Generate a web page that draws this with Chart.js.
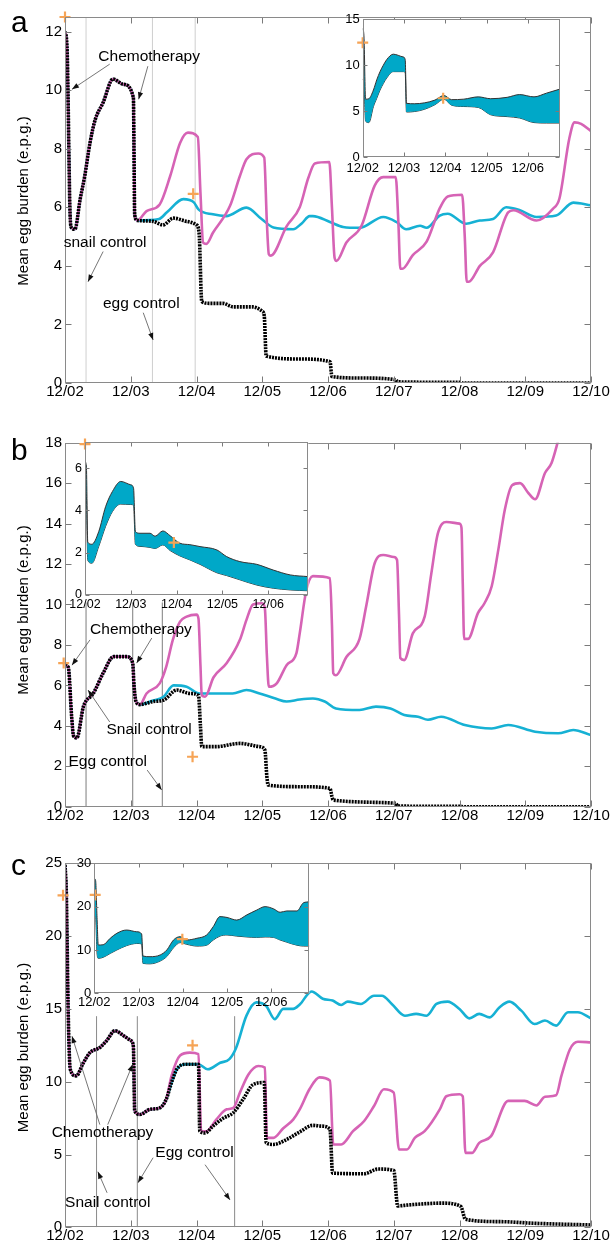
<!DOCTYPE html>
<html><head><meta charset="utf-8">
<script src="https://cdn.jsdelivr.net/npm/chart.js@4.4.1/dist/chart.umd.min.js"></script>
<style>
html,body{margin:0;padding:0;background:#fff;}
#wrap{position:relative;width:612px;height:1249px;overflow:hidden;background:#fff;}
canvas{position:absolute;}
</style></head><body><div id="wrap">
<canvas id="ma" width="612" height="410" style="left:0px;top:0px"></canvas>
<canvas id="ia" width="250" height="180" style="left:325px;top:5px"></canvas>
<canvas id="mb" width="612" height="425" style="left:0px;top:410px"></canvas>
<canvas id="ib" width="270" height="185" style="left:50px;top:430px"></canvas>
<canvas id="mc" width="612" height="414" style="left:0px;top:835px"></canvas>
<canvas id="ic" width="265" height="165" style="left:55px;top:850px"></canvas>
</div>
<script>
// ---------- labels / ticks ----------
const monthLabels = ['12/02','12/03','12/04','12/05','12/06','12/07','12/08','12/09','12/10'];
const monthTicks = [0,1,2,3,4,5,6,7,8];
const insetMonthTicks = [0,1,2,3,4];
const yTitle = 'Mean egg burden (e.p.g.)';

// ---------- panel a ----------
const aYTicks = [0,2,4,6,8,10,12];
const aCommonX = [0,0.03,0.08,0.1,0.15,0.23,0.3,0.38,0.46,0.58,0.73,0.89,1.04,1.06,1.1];
const aCommonY = [12.0,11.5,5.6,5.3,5.25,6.27,7.07,8.2,9.0,9.58,10.38,10.2,9.75,5.75,5.55];
const aBlackX = [1.34,1.49,1.65,1.85,2.0,2.04,2.08,2.2,2.4,2.56,2.85,3.0,3.03,3.06,3.57,4.03,4.06,4.5,5.03,5.06,6.02,6.05,8];
const aBlackY = [5.52,5.4,5.63,5.52,5.4,5.1,2.78,2.72,2.72,2.6,2.6,2.45,2.3,0.92,0.82,0.73,0.22,0.17,0.11,0.04,0.02,0,0];
const aPinkX = [1.24,1.44,1.6,1.75,1.87,2.02,2.06,2.1,2.15,2.25,2.51,2.66,2.76,2.94,3.03,3.07,3.1,3.13,3.37,3.57,3.7,3.8,4.02,4.06,4.1,4.13,4.28,4.51,4.71,4.84,5.03,5.07,5.1,5.13,5.29,5.5,5.7,5.82,6.04,6.08,6.11,6.14,6.31,6.51,6.74,6.82,7.17,7.42,7.52,7.67,7.75,7.85,8];
const aPinkY = [5.87,6.1,7.07,8.2,8.55,8.4,6.5,4.8,4.75,5.13,6.05,7.07,7.64,7.84,7.7,5.5,4.4,4.35,5.35,6.0,7.0,7.5,7.55,6.0,4.28,4.17,4.8,5.37,6.74,7.03,7.03,5.5,3.9,3.9,4.37,4.83,5.97,6.37,6.43,5.0,3.46,3.46,4.0,4.46,5.83,5.9,5.55,5.95,6.3,8.35,8.9,8.85,8.6];
const aCyanX = [1.43,1.55,1.8,1.96,2.03,2.25,2.45,2.76,2.99,3.17,3.47,3.6,3.72,3.77,4.03,4.23,4.48,4.84,5.04,5.19,5.4,5.5,5.7,5.82,6.1,6.31,6.51,6.71,6.92,7.17,7.47,7.73,8];
const aCyanY = [5.6,5.83,6.28,6.17,5.93,5.76,5.7,5.99,5.6,5.31,5.25,5.45,5.7,5.7,5.5,5.33,5.3,5.67,5.5,5.25,5.37,5.3,5.72,5.78,5.44,5.55,5.6,6.0,5.9,5.67,5.72,6.16,6.07];
const aVLines = [0.32,1.33,1.98];
const aPlusX = [0,1.95];
const aPlusY = [12.5,6.46];
// inset a
const iaYTicks = [0,5,10,15];
const iaX  = [0,0.03,0.07,0.15,0.26,0.34,0.42,0.5,0.58,0.74,0.98,1.03,1.06,1.25,1.5,1.75,1.97,2.15,2.45,2.8,3.1,3.5,3.8,4.15,4.45,4.78];
const iaHi = [14.0,13.2,6.3,6.35,7.3,8.4,9.3,10.0,10.6,11.2,10.9,10.6,5.85,5.8,5.9,6.2,6.7,6.25,6.3,6.55,6.35,6.5,6.8,6.55,6.95,7.4];
const iaLo = [8.5,8.0,3.9,3.75,5.5,6.4,7.3,8.0,8.6,9.3,9.3,9.2,4.9,4.95,5.2,5.7,6.3,5.65,5.5,5.4,4.6,4.4,4.25,3.75,3.7,3.7];
const iaPlusX = [0,1.95];
const iaPlusY = [12.45,6.4];

// ---------- panel b ----------
const bYTicks = [0,2,4,6,8,10,12,14,16,18];
const bCommonX = [0,0.05,0.1,0.13,0.18,0.28,0.43,0.58,0.74,0.94,1.03,1.05,1.08,1.14];
const bCommonY = [7.0,6.9,4.5,3.5,3.4,4.95,5.6,6.6,7.42,7.42,7.1,6.0,5.2,5.05];
const bBlackX = [1.34,1.5,1.7,1.9,2.03,2.06,2.08,2.3,2.66,2.96,3.04,3.07,3.09,3.57,4.03,4.06,4.08,5.03,5.06,6.02,6.05,8];
const bBlackY = [5.2,5.27,5.77,5.6,5.5,4.0,2.97,2.97,3.13,2.97,2.8,1.5,1.07,0.99,0.91,0.5,0.33,0.17,0.03,0.02,0,0];
const bPinkX = [1.24,1.44,1.54,1.64,1.75,1.85,2.0,2.03,2.06,2.08,2.13,2.26,2.46,2.66,2.76,2.86,3.0,3.04,3.07,3.1,3.22,3.37,3.52,3.57,3.67,3.77,4.03,4.06,4.08,4.12,4.28,4.48,4.58,4.71,4.84,5.0,5.05,5.08,5.1,5.16,5.29,5.47,5.57,5.67,5.8,6.0,6.03,6.05,6.07,6.13,6.28,6.38,6.49,6.59,6.69,6.8,6.92,7.05,7.15,7.3,7.4,7.5,7.7,8];
const bPinkY = [5.6,6.1,6.93,8.25,9.15,9.4,9.5,9.3,7.0,5.5,5.44,6.4,7.1,8.25,9.24,10.0,10.06,9.8,7.5,5.93,6.1,7.0,7.6,8.57,10.7,11.4,11.3,9.0,6.6,6.5,7.4,8.3,9.9,12.04,12.45,12.35,12.2,9.5,7.35,7.25,8.57,9.4,11.5,13.5,14.08,14.0,13.8,11.0,8.3,8.3,9.57,10.06,10.9,12.7,14.7,15.9,16.0,15.5,15.2,16.5,17.0,18.1,20.5,23];
const bCyanX = [1.34,1.5,1.65,1.85,2.05,2.3,2.55,2.76,2.96,3.2,3.37,3.57,3.77,3.95,4.12,4.48,4.73,4.95,5.16,5.37,5.52,5.72,6.08,6.49,6.74,7.15,7.5,7.73,8];
const bCyanY = [5.25,5.44,6.0,5.93,5.6,5.6,5.6,5.77,5.6,5.35,5.2,5.3,5.35,5.2,4.86,4.78,4.95,4.86,4.53,4.45,4.3,4.45,4.04,3.87,4.04,3.71,3.63,3.79,3.54];
const bVLines = [0.32,1.03,1.48];
const bPlusX = [-0.02,1.94];
const bPlusY = [7.1,2.47];
// inset b
const ibYTicks = [0,2,4,6];
const ibX  = [0,0.03,0.06,0.15,0.3,0.45,0.6,0.78,1.0,1.06,1.1,1.2,1.42,1.53,1.7,1.86,2.07,2.29,2.51,2.88,3.09,3.38,3.75,4.11,4.48,4.87];
const ibHi = [6.3,6.1,2.5,2.4,3.0,4.18,4.9,5.37,5.21,5.05,3.0,2.92,2.92,2.78,3.03,2.8,2.45,2.38,2.29,2.13,1.82,1.58,1.45,1.18,0.95,0.87];
const ibLo = [5.5,4.8,1.65,1.5,2.3,3.25,3.95,4.3,4.28,4.25,2.4,2.3,2.25,2.2,2.37,2.1,1.85,1.66,1.45,1.05,0.92,0.72,0.47,0.32,0.24,0.2];
const ibPlusX = [0,1.94];
const ibPlusY = [7.14,2.48];

// ---------- panel c ----------
const cYTicks = [0,5,10,15,20,25];
const cCommonX = [0,0.02,0.05,0.08,0.17,0.28,0.38,0.53,0.63,0.76,0.89,1.01,1.04,1.06,1.14,1.29,1.44,1.54];
const cCommonY = [24.9,23.0,14.5,10.85,10.4,11.3,12.0,12.35,12.8,13.5,13.16,12.8,12.4,8.0,7.75,8.1,8.2,8.8];
const cBlackX = [1.62,1.7,1.85,2.03,2.05,2.13,2.25,2.41,2.56,2.71,2.86,3.03,3.06,3.17,3.37,3.57,3.77,3.9,4.03,4.07,4.55,4.76,5.0,5.06,5.23,5.74,6.02,6.09,6.62,7.12,8];
const cBlackY = [9.94,10.85,11.2,11.2,6.6,6.48,6.95,7.5,7.87,8.8,9.8,9.94,5.8,5.69,6.03,6.55,7.0,6.95,6.72,3.72,3.68,4.0,3.9,1.47,1.54,1.66,1.43,0.55,0.39,0.28,0.16];
const cPinkX = [1.62,1.75,1.9,2.03,2.07,2.15,2.3,2.46,2.56,2.66,2.79,2.94,3.04,3.07,3.17,3.32,3.47,3.57,3.72,3.87,4.03,4.08,4.2,4.38,4.55,4.7,4.85,5.0,5.08,5.2,5.32,5.47,5.7,5.8,6.0,6.05,6.09,6.19,6.3,6.48,6.74,6.99,7.17,7.3,7.47,7.55,7.68,7.8,8];
const cPinkY = [10.4,11.8,12.0,11.9,6.6,6.6,7.4,8.1,8.2,9.25,10.5,11.08,10.97,6.14,6.14,6.8,7.4,8.1,9.5,10.3,10.07,5.69,5.69,6.6,7.3,8.33,9.48,9.25,5.34,5.34,6.14,6.6,8.1,9.0,9.14,9.0,5.11,5.11,5.8,6.26,8.68,8.68,8.37,8.97,9.07,10.4,12.23,12.74,12.7];
const cCyanX = [1.62,1.7,1.85,2.03,2.17,2.36,2.5,2.6,2.76,2.91,3.06,3.19,3.32,3.47,3.57,3.75,3.92,4.07,4.2,4.3,4.5,4.7,4.82,4.97,5.17,5.34,5.5,5.65,5.82,6.0,6.15,6.3,6.46,6.61,6.76,6.94,7.14,7.3,7.47,7.65,7.8,8];
const cCyanY = [9.94,10.85,11.2,11.2,10.85,11.3,11.55,12.3,14.54,15.45,15.2,14.3,15.0,15.0,15.3,16.2,15.7,15.57,15.27,15.5,15.34,15.9,15.9,15.34,14.53,14.66,14.53,15.34,15.5,15.0,14.35,14.66,14.42,15.12,15.5,14.88,13.96,14.2,13.85,14.77,14.77,14.35];
const cVLines = [0.48,1.1,2.58];
const cPlusX = [-0.03,1.94];
const cPlusY = [22.8,12.5];
// inset c
const icYTicks = [0,10,20,30];
const icX  = [0,0.03,0.06,0.09,0.2,0.36,0.51,0.73,0.96,1.07,1.1,1.26,1.49,1.64,1.79,1.94,2.09,2.32,2.54,2.69,2.84,3.0,3.22,3.45,3.67,3.86,4.05,4.2,4.35,4.58,4.73,4.86];
const icHi = [26.5,26,18,11.15,11.2,12.7,13.85,14.6,14.2,13.7,8.6,8.45,8.85,10.0,12.3,13.07,12.3,12.7,13.46,15.4,17.7,17.5,16.9,18.1,19.2,20.0,19.5,18.7,19.0,19.0,20.9,21.1];
const icLo = [18,17.5,9.5,8.07,8.3,9.2,10.0,11.0,11.5,11.4,6.9,6.8,7.45,8.5,10.5,11.7,11.3,10.9,11.1,12.3,13.2,13.46,13.2,13.0,12.9,13.0,12.9,12.3,11.8,11.1,10.9,10.9];
const icPlusX = [0.02,1.99];
const icPlusY = [22.7,12.5];

// ---------- styling ----------
const FONT = '"Liberation Sans", Arial, Helvetica, sans-serif';
const TXT = '#000';
const PINK = '#d663b5';
const CYAN = '#16b1d4';
const ORANGE = '#f6a456';
const BAND = '#00a8c8';

function pts(xs, ys){ return xs.map((x,i)=>({x:x, y:ys[i]})); }

const deco = {
  id: 'deco',
  beforeDraw(chart, args, o){
    if (!o || !o.white) return;
    const ca = chart.chartArea, ctx = chart.ctx;
    ctx.save(); ctx.fillStyle = '#fff';
    ctx.fillRect(ca.left, ca.top, ca.right-ca.left, ca.bottom-ca.top);
    ctx.restore();
  },
  afterDraw(chart, args, o){
    if (!o) return;
    const ctx = chart.ctx, ca = chart.chartArea, xs = chart.scales.x, ys = chart.scales.y;
    ctx.save();
    const L = Math.round(ca.left)+0.5, R = Math.round(ca.right)-0.5, T = Math.round(ca.top)+0.5, B = Math.round(ca.bottom)-0.5;
    ctx.strokeStyle = '#7a7a7a'; ctx.lineWidth = 1;
    ctx.beginPath();
    const tl = o.tickLen;
    xs.ticks.forEach(t=>{ const p = Math.round(xs.getPixelForValue(t.value))+0.5;
      ctx.moveTo(p,B); ctx.lineTo(p,B-tl); ctx.moveTo(p,T); ctx.lineTo(p,T+tl); });
    ys.ticks.forEach(t=>{ const p = Math.round(ys.getPixelForValue(t.value))+0.5;
      ctx.moveTo(L,p); ctx.lineTo(L+tl,p); ctx.moveTo(R,p); ctx.lineTo(R-tl,p); });
    ctx.stroke();
    ctx.strokeStyle = '#8a8a8a';
    ctx.strokeRect(L, T, R-L, B-T);
    // arrows
    (o.arrows||[]).forEach(a=>{
      const x1 = xs.getPixelForValue(a[0]), y1 = ys.getPixelForValue(a[1]);
      const x2 = xs.getPixelForValue(a[2]), y2 = ys.getPixelForValue(a[3]);
      ctx.strokeStyle = '#666'; ctx.lineWidth = 0.9;
      ctx.beginPath(); ctx.moveTo(x1,y1); ctx.lineTo(x2,y2); ctx.stroke();
      const ang = Math.atan2(y2-y1, x2-x1), hl = 7, hw = 2.6;
      ctx.fillStyle = '#111';
      ctx.beginPath();
      ctx.moveTo(x2,y2);
      ctx.lineTo(x2 - hl*Math.cos(ang) + hw*Math.sin(ang), y2 - hl*Math.sin(ang) - hw*Math.cos(ang));
      ctx.lineTo(x2 - hl*Math.cos(ang) - hw*Math.sin(ang), y2 - hl*Math.sin(ang) + hw*Math.cos(ang));
      ctx.closePath(); ctx.fill();
    });
    // notes
    ctx.fillStyle = TXT; ctx.textAlign = 'center'; ctx.textBaseline = 'middle';
    ctx.font = '15.5px ' + FONT;
    (o.notes||[]).forEach(n=>{ ctx.fillText(n.t, xs.getPixelForValue(n.x), ys.getPixelForValue(n.y)); });
    // y title
    if (o.titleY){
      ctx.save(); ctx.translate(23.5, o.titleY); ctx.rotate(-Math.PI/2);
      ctx.font = '15px ' + FONT; ctx.fillText(yTitle, 0, 0); ctx.restore();
    }
    if (o.letter){
      ctx.font = '30px ' + FONT; ctx.textAlign = 'left'; ctx.textBaseline = 'alphabetic';
      ctx.fillText(o.letter, 11, o.letterY);
    }
    ctx.restore();
  }
};

function mainChart(id, c){
  const black = pts(c.commonX.concat(c.blackX), c.commonY.concat(c.blackY));
  const pink  = pts(c.commonX.concat(c.pinkX),  c.commonY.concat(c.pinkY));
  const cyan  = pts(c.commonX.concat(c.cyanX),  c.commonY.concat(c.cyanY));
  const sets = [
    {data: pts(c.plusX, c.plusY), showLine:false, pointStyle:'cross', pointRadius:5.5, pointBorderColor:ORANGE, pointBorderWidth:2.2, clip:false, order:0},
    {data: black, borderColor:'#000', borderWidth:3.6, borderDash:[2,1], pointRadius:0, cubicInterpolationMode:'monotone', order:1},
    {data: pink, borderColor:PINK, borderWidth:2.6, pointRadius:0, cubicInterpolationMode:'monotone', order:2},
    {data: cyan, borderColor:CYAN, borderWidth:2.6, pointRadius:0, cubicInterpolationMode:'monotone', order:3}
  ];
  c.vlines.forEach(v=>sets.push({data:[{x:v,y:0},{x:v,y:c.vtop}], borderColor:c.vcolor, borderWidth:1, pointRadius:0, order:5}));
  new Chart(document.getElementById(id), {
    type:'line',
    data:{datasets:sets},
    plugins:[deco],
    options:{
      responsive:false, animation:false, events:[],
      layout:{padding:{top:c.areaTop, right:21, left:0, bottom:0}},
      plugins:{legend:{display:false}, tooltip:{enabled:false},
        deco:{tickLen:6, notes:c.notes, arrows:c.arrows, titleY:c.titleY, letter:c.letter, letterY:c.letterY}},
      scales:{
        x:{type:'linear', min:0, max:8,
          afterBuildTicks:s=>{ s.ticks = monthTicks.map(v=>({value:v})); },
          afterFit:s=>{ s.height = c.xH; },
          ticks:{callback:v=>monthLabels[v], font:{family:FONT,size:15}, color:TXT, padding:0, maxRotation:0, autoSkip:false},
          grid:{display:false, drawTicks:false}, border:{display:false}},
        y:{type:'linear', min:0, max:c.ymax,
          afterBuildTicks:s=>{ s.ticks = c.yticks.map(v=>({value:v})); },
          afterFit:s=>{ s.width = 65; },
          ticks:{font:{family:FONT,size:15}, color:TXT, padding:3},
          grid:{display:false, drawTicks:false}, border:{display:false}}
      }
    }
  });
}

function insetChart(id, c){
  new Chart(document.getElementById(id), {
    type:'line',
    data:{datasets:[
      {data: pts(c.plusX, c.plusY), showLine:false, pointStyle:'cross', pointRadius:5.5, pointBorderColor:ORANGE, pointBorderWidth:2.2, clip:false, order:0},
      {data: pts(c.x, c.lo), borderColor:'#333', borderWidth:1, pointRadius:0, fill:false, cubicInterpolationMode:'monotone', order:2},
      {data: pts(c.x, c.hi), borderColor:'#333', borderWidth:1, pointRadius:0, fill:'-1', backgroundColor:BAND, cubicInterpolationMode:'monotone', order:1}
    ]},
    plugins:[deco],
    options:{
      responsive:false, animation:false, events:[],
      layout:{padding:{top:c.padTop, right:c.padRight, left:0, bottom:0}},
      plugins:{legend:{display:false}, tooltip:{enabled:false}, filler:{propagate:false},
        deco:{white:true, tickLen:4}},
      scales:{
        x:{type:'linear', min:0, max:c.xmax,
          afterBuildTicks:s=>{ s.ticks = insetMonthTicks.map(v=>({value:v})); },
          afterFit:s=>{ s.height = c.xH; },
          ticks:{callback:v=>monthLabels[v], font:{family:FONT,size:c.fs}, color:TXT, padding:c.xPad, maxRotation:0, autoSkip:false},
          grid:{display:false, drawTicks:false}, border:{display:false}},
        y:{type:'linear', min:0, max:c.ymax,
          afterBuildTicks:s=>{ s.ticks = c.yticks.map(v=>({value:v})); },
          afterFit:s=>{ s.width = c.yW; },
          ticks:{font:{family:FONT,size:c.fs}, color:TXT, padding:3},
          grid:{display:false, drawTicks:false}, border:{display:false}}
      }
    }
  });
}

mainChart('ma', {commonX:aCommonX, commonY:aCommonY, blackX:aBlackX, blackY:aBlackY, pinkX:aPinkX, pinkY:aPinkY, cyanX:aCyanX, cyanY:aCyanY,
  plusX:aPlusX, plusY:aPlusY, vlines:aVLines, vtop:12.5, vcolor:'#cfcfcf', ymax:12.5, yticks:aYTicks,
  areaTop:17, xH:27, titleY:201, letter:'a', letterY:32,
  notes:[{t:'Chemotherapy', x:1.28, y:11.13},{t:'snail control', x:0.61, y:4.79},{t:'egg control', x:1.16, y:2.7}],
  arrows:[[0.68,10.89,0.106,10.03],[1.26,10.82,1.12,9.69],[0.58,4.49,0.35,3.46],[1.19,2.4,1.34,1.47]]});

insetChart('ia', {x:iaX, hi:iaHi, lo:iaLo, plusX:iaPlusX, plusY:iaPlusY, xmax:4.78, ymax:15, yticks:iaYTicks,
  padTop:14.3, padRight:15, xH:28, yW:37.7, fs:13, xPad:3.5});

mainChart('mb', {commonX:bCommonX, commonY:bCommonY, blackX:bBlackX, blackY:bBlackY, pinkX:bPinkX, pinkY:bPinkY, cyanX:bCyanX, cyanY:bCyanY,
  plusX:bPlusX, plusY:bPlusY, vlines:bVLines, vtop:10.1, vcolor:'#7d7d7d', ymax:18, yticks:bYTicks,
  areaTop:32.7, xH:28.3, titleY:200, letter:'b', letterY:50,
  notes:[{t:'Chemotherapy', x:1.155, y:8.74},{t:'Snail control', x:1.28, y:3.79},{t:'Egg control', x:0.65, y:2.21}],
  arrows:[[0.38,8.25,0.106,7.0],[1.32,8.34,1.09,7.1],[0.68,4.19,0.35,5.77],[1.25,1.81,1.47,0.83]]});

insetChart('ib', {x:ibX, hi:ibHi, lo:ibLo, plusX:ibPlusX, plusY:ibPlusY, xmax:4.875, ymax:7.25, yticks:ibYTicks,
  padTop:11.7, padRight:11.7, xH:20, yW:35, fs:12.5, xPad:2.5});

mainChart('mc', {commonX:cCommonX, commonY:cCommonY, blackX:cBlackX, blackY:cBlackY, pinkX:cPinkX, pinkY:cPinkY, cyanX:cCyanX, cyanY:cCyanY,
  plusX:cPlusX, plusY:cPlusY, vlines:cVLines, vtop:14.5, vcolor:'#8a8a8a', ymax:25, yticks:cYTicks,
  areaTop:28.3, xH:21.7, titleY:212.5, letter:'c', letterY:40,
  notes:[{t:'Chemotherapy', x:0.57, y:6.51},{t:'Egg control', x:1.97, y:5.13},{t:'Snail control', x:0.65, y:1.68}],
  arrows:[[0.53,7.05,0.106,13.13],[0.65,7.05,1.03,11.2],[1.34,4.78,1.11,3.06],[2.13,4.3,2.51,1.88],[0.64,2.37,0.5,3.82]]});

insetChart('ic', {x:icX, hi:icHi, lo:icLo, plusX:icPlusX, plusY:icPlusY, xmax:4.86, ymax:30, yticks:icYTicks,
  padTop:13.3, padRight:10.7, xH:21.7, yW:39.3, fs:13, xPad:1.6});
</script>
</body></html>
